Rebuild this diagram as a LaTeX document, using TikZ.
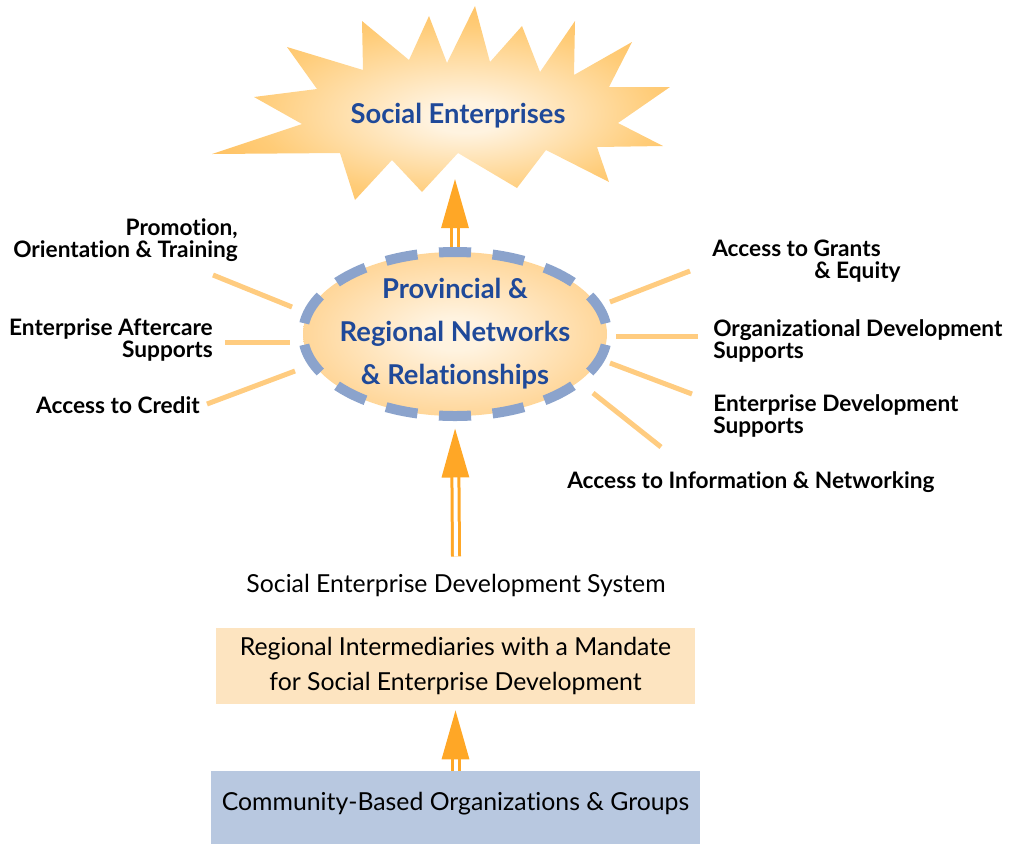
\documentclass[tikz,border=0pt]{standalone}
\usepackage{fontspec}
\setmainfont{Lato}[Ligatures=NoCommon]
\usetikzlibrary{shapes.geometric,arrows.meta}

\definecolor{seblue}{RGB}{31,73,153}
\definecolor{searrow}{RGB}{255,167,38}
\definecolor{seray}{RGB}{255,204,128}
\definecolor{sedash}{RGB}{139,163,204}
\definecolor{sepeach}{RGB}{253,228,192}
\definecolor{sesteel}{RGB}{184,200,224}
\definecolor{seglow}{RGB}{255,243,224}
\definecolor{seburstmid}{RGB}{255,204,120}
\definecolor{seburstedge}{RGB}{255,160,30}
\definecolor{senetedge}{RGB}{255,178,64}

\pgfdeclareradialshading{seburst}{\pgfpoint{3bp}{-4bp}}{color(0bp)=(seglow); color(4bp)=(seglow); color(22bp)=(seburstmid); color(50bp)=(seburstedge)}
\pgfdeclareradialshading{senet}{\pgfpoint{0bp}{0bp}}{color(0bp)=(seglow); color(5bp)=(seglow); color(50bp)=(senetedge)}

\tikzset{
  burstlabel/.style={font=\fontsize{20.5}{24}\selectfont\bfseries,text=seblue},
  netell/.style={ellipse,minimum width=228pt,minimum height=123pt,inner sep=0,
    shade,shading=senet,draw=sedash,line width=7.5pt,
    dash pattern=on 24pt off 16.27pt,dash phase=32.13pt},
  nettext/.style={font=\fontsize{20.5}{32.25}\selectfont\bfseries,text=seblue,align=center},
  sidetext/.style={font=\fontsize{17}{16.5}\selectfont\bfseries,inner sep=0},
  ray/.style={draw=seray,line width=3.75pt},
  uparrow/.style={draw=searrow,line width=2.25pt,double=white,double distance=3pt,
    -{Triangle[length=36.75pt,width=20.25pt,fill=searrow]}},
  plaintext/.style={font=\fontsize{18.6}{26.25}\selectfont,inner sep=0}
}

\begin{document}
\begin{tikzpicture}[x=0.75pt,y=-0.75pt]
    \useasboundingbox (0,0) rectangle (1016,844);
    % the burst on top
    \shade[shading=seburst] (212,154) -- (302,124) -- (254,97) -- (317,89) -- (287,47)
        -- (363,70) -- (362,21) -- (409,60) -- (429,16) -- (447,63) -- (475,6)
        -- (490,62) -- (522,26) -- (540,72) -- (575,21) -- (574,75) -- (632,42)
        -- (609,87) -- (670,87) -- (618,123) -- (663,146) -- (597,147) -- (609,182)
        -- (546,150) -- (517,188) -- (458,153) -- (422,192) -- (392,160) -- (355,200)
        -- (340,153) -- cycle;
    \node[burstlabel] (se) at (458,116) {Social Enterprises};
    \coordinate (setip) at (455,179);

    \node[netell] (net) at (455,334) {};
    \node[nettext] (nettxt) at (net.center) {Provincial \&\\Regional Networks\\\& Relationships};

    % rays round the networks
    \draw[ray] (213,275) -- (292,307);
    \draw[ray] (225,342) -- (290,342);
    \draw[ray] (207,404) -- (295,371);
    \draw[ray] (610,302) -- (690,271);
    \draw[ray] (616,336) -- (698,336);
    \draw[ray] (610,363) -- (692,394);
    \draw[ray] (593,393) -- (661,447);

    % supports, left side
    \node[sidetext,align=right,anchor=base east] (promo) at (238,257) {Promotion,\\Orientation \& Training};
    \node[sidetext,align=right,anchor=base east] (after) at (213,357) {Enterprise Aftercare\\Supports};
    \node[sidetext,align=right,anchor=base east] (credit) at (200,413) {Access to Credit};
    % supports, right side
    \node[sidetext,align=left,anchor=base west] (grants) at (712,278) {Access to Grants\\\hspace*{76.5pt}\& Equity};
    \node[sidetext,align=left,anchor=base west] (orgdev) at (713,358) {Organizational Development\\Supports};
    \node[sidetext,align=left,anchor=base west] (entdev) at (713,433) {Enterprise Development\\Supports};
    \node[sidetext,anchor=base west] (info) at (567,488) {Access to Information \& Networking};

    \node[plaintext,anchor=base] (sys) at (456,592) {Social Enterprise Development System};
    \node[plaintext,fill=sepeach,minimum width=359.25pt,minimum height=57pt,align=center] (rim) at (455.5,666)
        {Regional Intermediaries with a Mandate\\for Social Enterprise Development};
    \node[plaintext,fill=sesteel,minimum width=366.75pt,text height=29.25pt,text depth=25.5pt,anchor=base] (cbo) at (455.5,810)
        {Community-Based Organizations \& Groups};

    \draw[uparrow] (net.north) -- (setip);
    \draw[uparrow,shorten >=5.6pt] ([yshift=12.75pt]sys.north) -- (net.south);
    \draw[uparrow,shorten >=4.5pt] (cbo.north) -- (rim.south);
\end{tikzpicture}
\end{document}
